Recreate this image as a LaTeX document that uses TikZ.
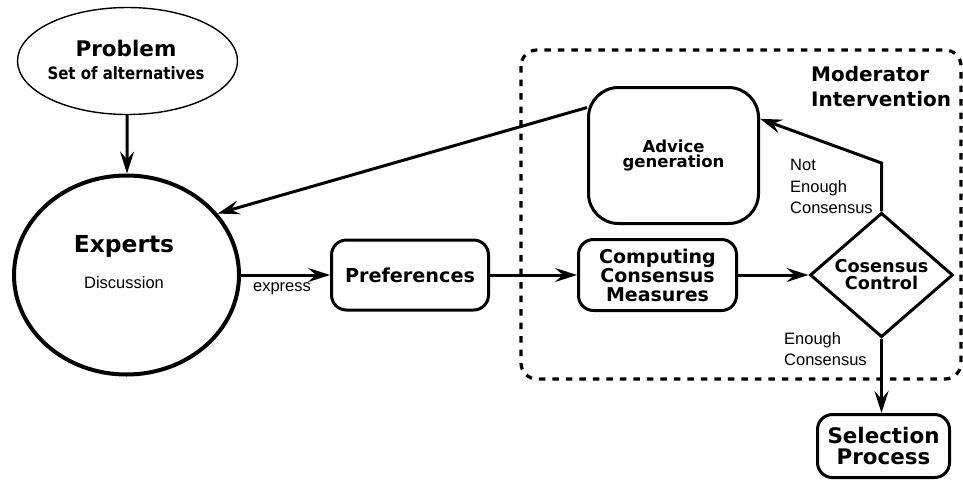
\documentclass[tikz,border=0pt]{standalone}
\usepackage{fontspec}
\setmainfont{DejaVu Sans}
\newfontfamily\lib{Liberation Sans}
\newfontfamily\condb{DejaVu Sans}[FakeStretch=0.88]
\usetikzlibrary{shapes.geometric,arrows.meta}
\tikzset{
  arr/.style={line width=3pt,-{Stealth[length=22pt,width=14pt,inset=8pt]}},
  rbox/.style={draw,line width=3pt,rounded corners=15pt,inner sep=0pt,align=center,font=\bfseries},
  lbl/.style={inner sep=0pt,align=left,font=\lib\fontsize{16.5}{21.5}\selectfont},
}
\begin{document}
\begin{tikzpicture}[x=1pt,y=-1pt]
\useasboundingbox (0,0) rectangle (963,483);
% dotted frame
\draw[line width=3.2pt,dash pattern=on 6.5pt off 7pt,rounded corners=16pt] (521,50) rectangle (961,379);
\node[inner sep=0pt,anchor=west,align=left,font=\bfseries\fontsize{20}{25}\selectfont] (mod) at (811,87) {Moderator\\Intervention};
% nodes
\node[ellipse,draw,line width=1.4pt,minimum width=220pt,minimum height=107pt,inner sep=0pt] (problem) at (127.5,61) {};
\node[inner sep=0pt,font=\bfseries\fontsize{21.5}{26}\selectfont] (ptitle) at (126,48) {Problem};
\node[inner sep=0pt,font=\condb\bfseries\fontsize{17}{20}\selectfont] (psub) at (126,73) {Set of alternatives};
\node[ellipse,draw,line width=4pt,minimum width=225pt,minimum height=199pt,inner sep=0pt] (experts) at (126.5,275) {};
\node[inner sep=0pt,font=\bfseries\fontsize{23.4}{28}\selectfont] (etitle) at (124,246) {Experts};
\node[inner sep=0pt,font=\lib\fontsize{16.5}{20}\selectfont] (esub) at (124,283) {Discussion};
\node[rbox,minimum width=157pt,minimum height=70pt,font=\bfseries\fontsize{19.2}{22}\selectfont] (prefs) at (410,275) {Preferences};
\node[rbox,minimum width=158pt,minimum height=71pt,font=\bfseries\fontsize{19}{19}\selectfont] (comp) at (657.5,275) {Computing\\Consensus\\Measures};
\node[diamond,draw,line width=3pt,minimum width=143pt,minimum height=102pt,inner sep=0pt,align=center,font=\bfseries\fontsize{17.7}{17}\selectfont] (ctrl) at (881.5,275) {Cosensus\\Control};
\node[rbox,rounded corners=30pt,minimum width=170pt,minimum height=136pt,font=\bfseries\fontsize{16.5}{15.5}\selectfont] (advice) at (673.5,155.5) {Advice\\generation};
\node[rbox,minimum width=132pt,minimum height=63pt,font=\bfseries\fontsize{21.4}{21}\selectfont] (sel) at (883.5,446) {Selection\\Process};
\coordinate (bend) at (881.5,163);
% connectors
\draw[arr] (problem) -- (experts);
\draw[arr] (experts.east) -- (prefs.west);
\draw[arr] (prefs) -- (comp);
\draw[arr] (comp) -- (ctrl);
\draw[arr] (ctrl.south) -- (ctrl.south |- sel.north);
\draw[arr] (ctrl.north) -- (bend) -- (advice.23);
\draw[arr] (advice.151) -- (experts.34);
% labels
\node[lbl] (express) at (282,289) {express};
\node[lbl,anchor=west] (notenough) at (790,186.5) {Not\\Enough\\Consensus};
\node[lbl,anchor=west] (enough) at (784,349) {Enough\\Consensus};
\end{tikzpicture}
\end{document}
